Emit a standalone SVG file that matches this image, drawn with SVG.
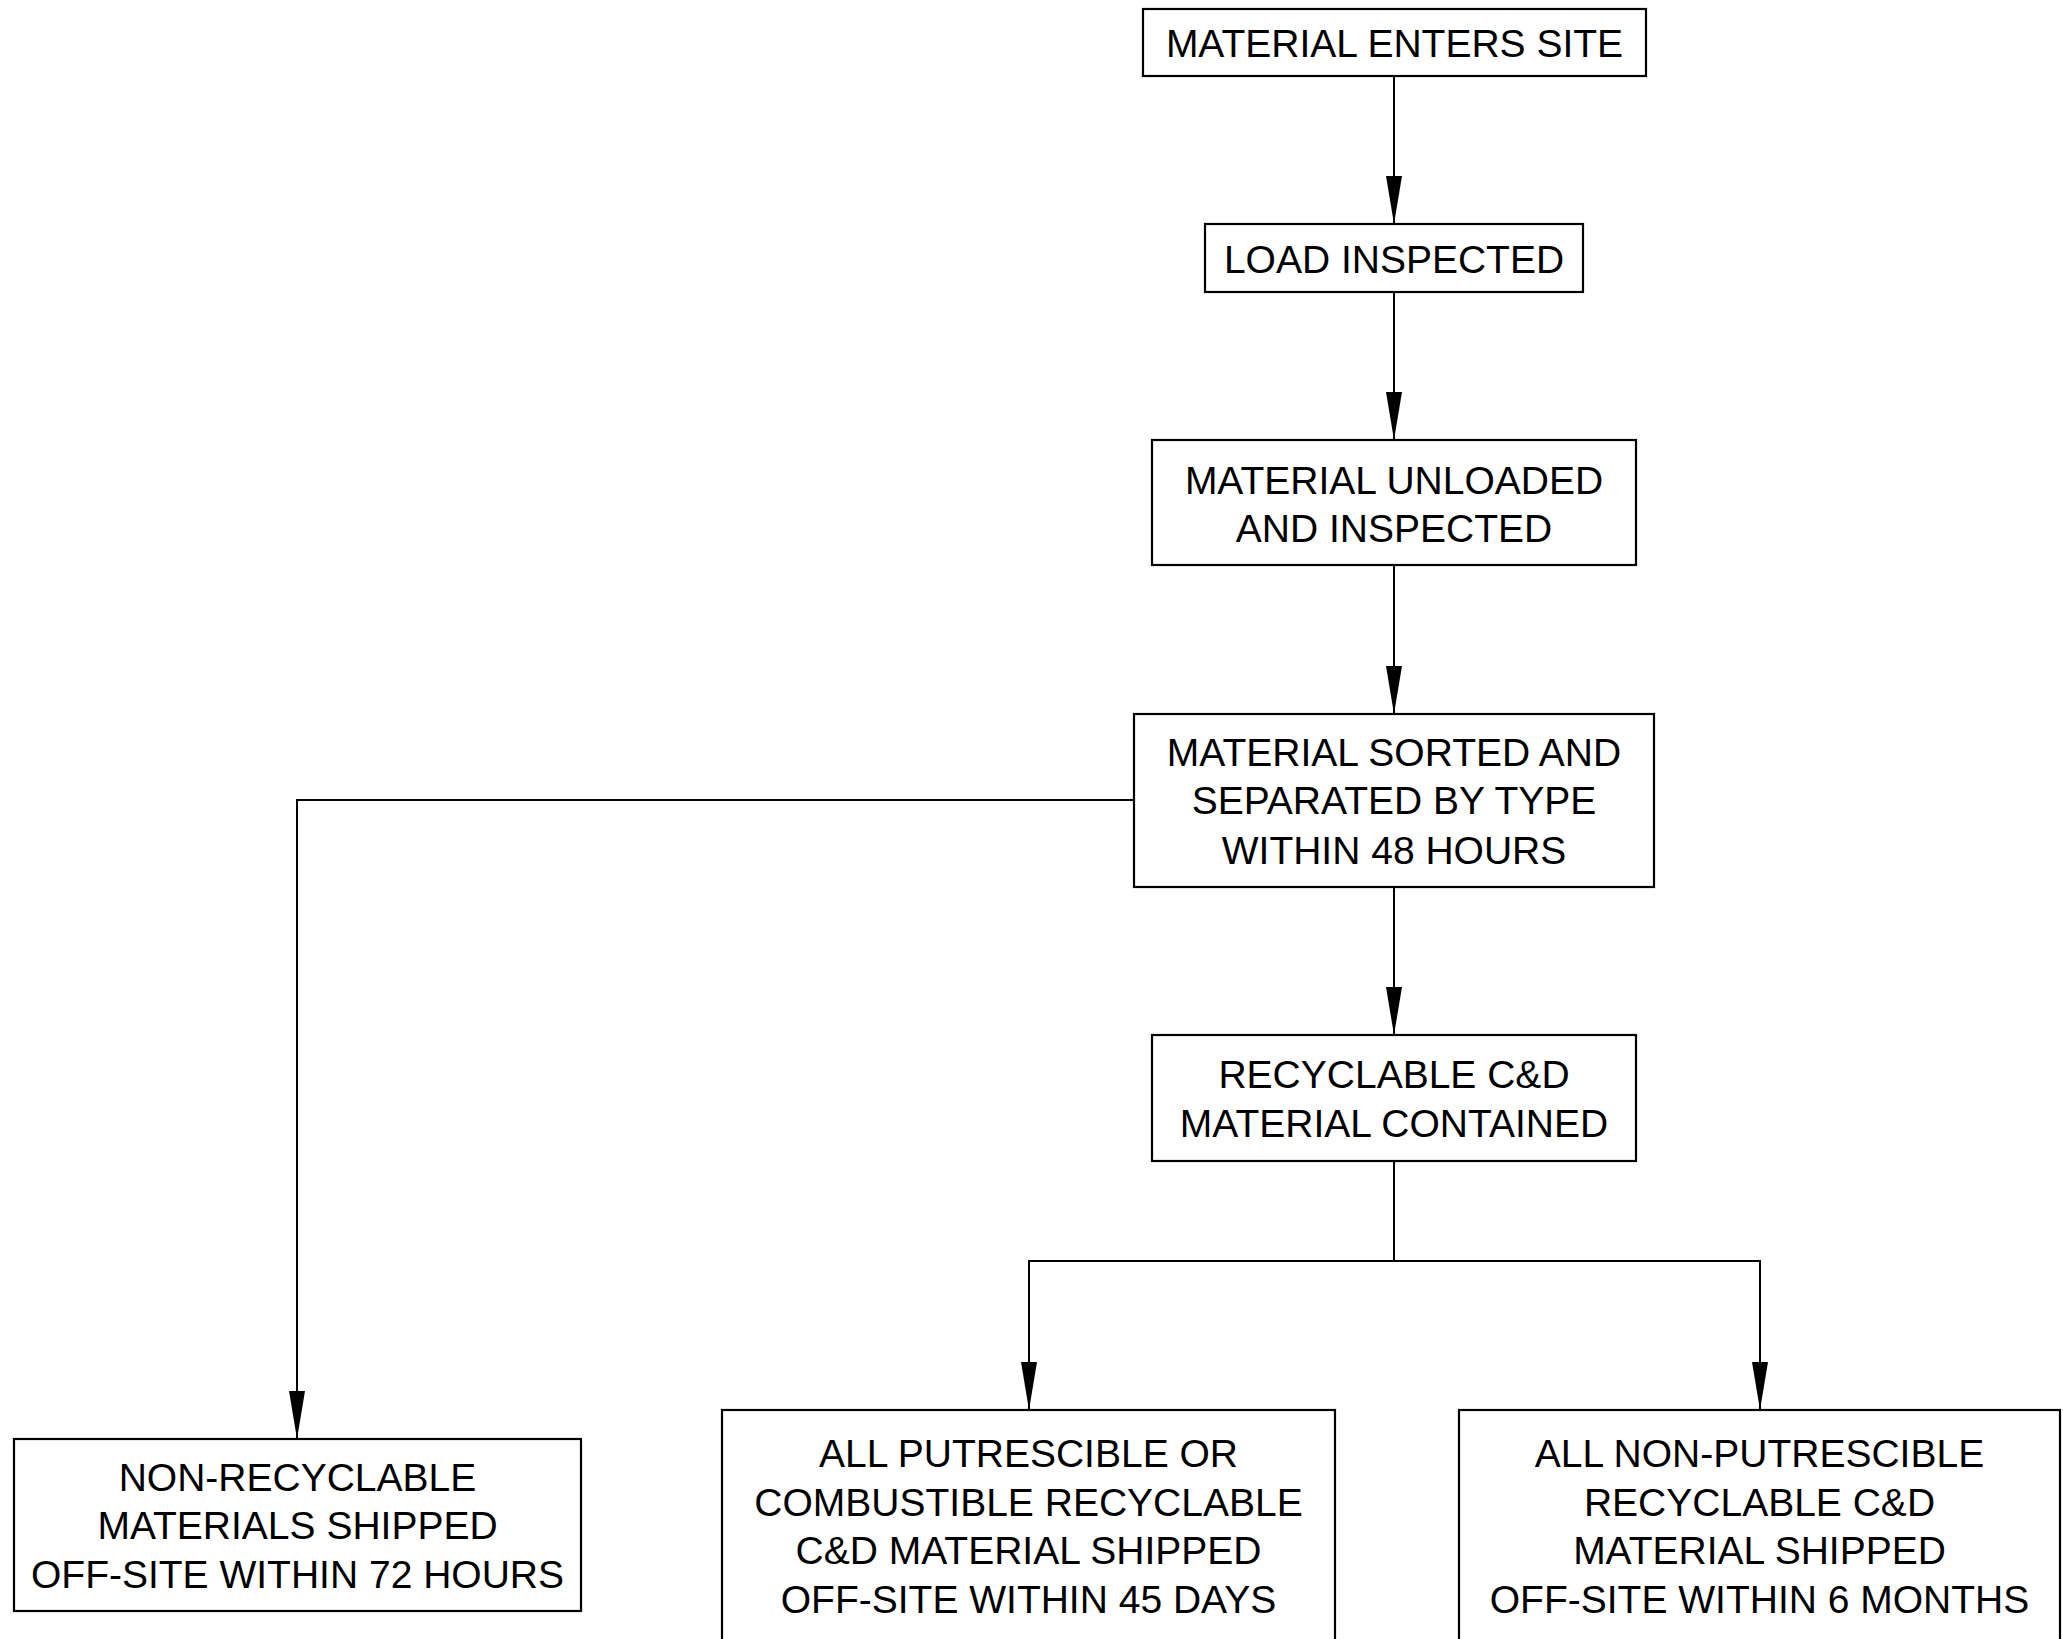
<svg xmlns="http://www.w3.org/2000/svg" width="2063" height="1639" viewBox="0 0 2063 1639">
<style>
  .box { fill: #fff; stroke: #000; stroke-width: 2.2; }
  .lbl { font-family: "Liberation Sans", Arial, Helvetica, sans-serif; font-size: 39px; fill: #000; text-anchor: middle; }
  .conn { fill: none; stroke: #000; stroke-width: 2; }
</style>
<defs>
  <marker id="arrow" markerUnits="userSpaceOnUse" markerWidth="48" markerHeight="16" refX="48" refY="8" orient="auto" viewBox="0 0 48 16">
    <path d="M0,0 L48,8 L0,16 z" fill="#000"/>
  </marker>
</defs>
<rect x="0" y="0" width="2063" height="1639" fill="#fff"/>
<g id="connectors">
  <path class="conn" d="M1394,76 V224" marker-end="url(#arrow)"/>
  <path class="conn" d="M1394,292 V440" marker-end="url(#arrow)"/>
  <path class="conn" d="M1394,565 V714" marker-end="url(#arrow)"/>
  <path class="conn" d="M1394,887 V1035" marker-end="url(#arrow)"/>
  <path class="conn" d="M1134,800 H297 V1439" marker-end="url(#arrow)"/>
  <path class="conn" d="M1394,1161 V1261 H1029 V1410" marker-end="url(#arrow)"/>
  <path class="conn" d="M1394,1261 H1760 V1410" marker-end="url(#arrow)"/>
</g>
<g id="n1">
  <rect class="box" x="1143" y="9" width="503" height="67"/>
  <text class="lbl" x="1394.5" y="57">MATERIAL ENTERS SITE</text>
</g>
<g id="n2">
  <rect class="box" x="1205" y="224" width="378" height="68"/>
  <text class="lbl" x="1394" y="272.5">LOAD INSPECTED</text>
</g>
<g id="n3">
  <rect class="box" x="1152" y="440" width="484" height="125"/>
  <text class="lbl" x="1394" y="493.5">MATERIAL UNLOADED</text>
  <text class="lbl" x="1394" y="541.5">AND INSPECTED</text>
</g>
<g id="n4">
  <rect class="box" x="1134" y="714" width="520" height="173"/>
  <text class="lbl" x="1394" y="765.5">MATERIAL SORTED AND</text>
  <text class="lbl" x="1394" y="814">SEPARATED BY TYPE</text>
  <text class="lbl" x="1394" y="863.5">WITHIN 48 HOURS</text>
</g>
<g id="n5">
  <rect class="box" x="1152" y="1035" width="484" height="126"/>
  <text class="lbl" x="1394" y="1088">RECYCLABLE C&amp;D</text>
  <text class="lbl" x="1394" y="1137">MATERIAL CONTAINED</text>
</g>
<g id="n6">
  <rect class="box" x="14" y="1439" width="567" height="172"/>
  <text class="lbl" x="297.5" y="1490.5">NON-RECYCLABLE</text>
  <text class="lbl" x="297.5" y="1539">MATERIALS SHIPPED</text>
  <text class="lbl" x="297.5" y="1587.5">OFF-SITE WITHIN 72 HOURS</text>
</g>
<g id="n7">
  <rect class="box" x="722" y="1410" width="613" height="245"/>
  <text class="lbl" x="1028.5" y="1467">ALL PUTRESCIBLE OR</text>
  <text class="lbl" x="1028.5" y="1515.5">COMBUSTIBLE RECYCLABLE</text>
  <text class="lbl" x="1028.5" y="1564">C&amp;D MATERIAL SHIPPED</text>
  <text class="lbl" x="1028.5" y="1612.5">OFF-SITE WITHIN 45 DAYS</text>
</g>
<g id="n8">
  <rect class="box" x="1459" y="1410" width="601" height="245"/>
  <text class="lbl" x="1759.5" y="1467">ALL NON-PUTRESCIBLE</text>
  <text class="lbl" x="1759.5" y="1515.5">RECYCLABLE C&amp;D</text>
  <text class="lbl" x="1759.5" y="1564">MATERIAL SHIPPED</text>
  <text class="lbl" x="1759.5" y="1612.5">OFF-SITE WITHIN 6 MONTHS</text>
</g>
</svg>
